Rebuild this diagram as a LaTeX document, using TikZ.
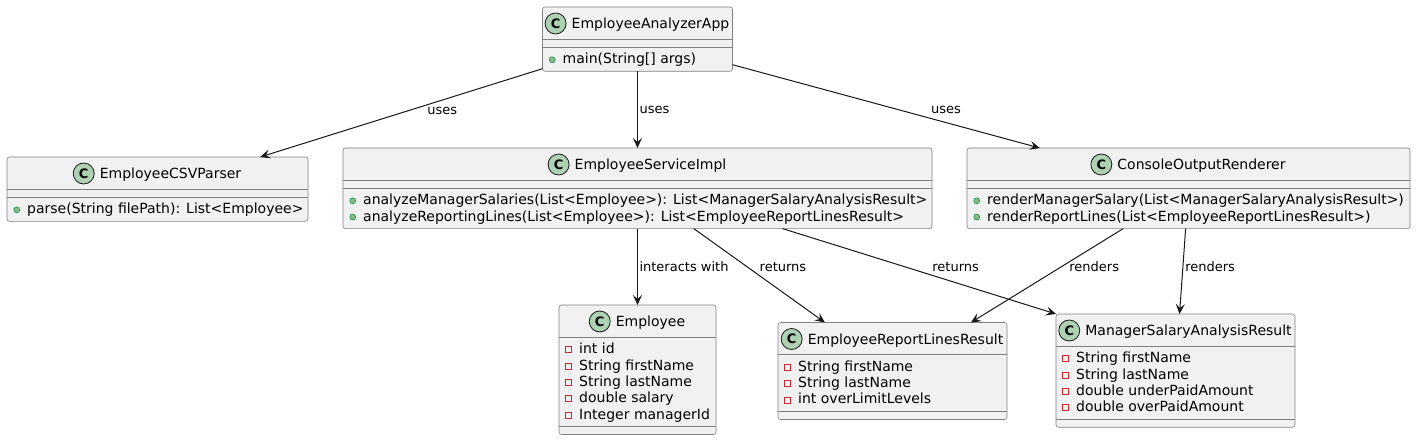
\documentclass[tikz,border=0pt]{standalone}
\usepackage{fontspec}
\setmainfont{DejaVu Sans}
\usetikzlibrary{arrows.meta,positioning}
\definecolor{umlline}{HTML}{181818}
\definecolor{umlfill}{HTML}{F1F1F1}
\definecolor{umlicon}{HTML}{ADD1B2}
\definecolor{pubfill}{HTML}{84BE84}
\definecolor{pubdraw}{HTML}{038048}
\definecolor{privdraw}{HTML}{C82930}

\begin{document}
\begin{tikzpicture}[
  x=1pt, y=-1pt,
  cls/.style={draw=umlline!55,line width=0.6pt,fill=umlfill,rounded corners=2.5pt,anchor=north,inner sep=0pt,outer sep=0pt},
  sep/.style={draw=umlline!55,line width=0.6pt},
  cname/.style={font=\fontsize{14}{16}\selectfont,inner sep=0pt,text height=10pt,text depth=0pt},
  cicon/.style={circle,draw=umlline,line width=0.8pt,fill=umlicon,minimum size=21pt,inner sep=0pt,font=\fontsize{13}{15}\selectfont\bfseries},
  member/.style={font=\fontsize{14}{16}\selectfont,inner sep=0pt,text height=8pt,text depth=0pt,anchor=west},
  pub/.style={member,label={[circle,draw=pubdraw,line width=0.5pt,fill=pubfill,minimum size=6pt,inner sep=0pt,label distance=7pt]left:{}}},
  priv/.style={member,label={[rectangle,draw=privdraw,line width=0.8pt,minimum size=6pt,inner sep=0pt,label distance=7pt]left:{}}},
  lbl/.style={font=\fontsize{13}{15}\selectfont,inner sep=0pt,text height=7pt,text depth=0pt},
  arr/.style={-{Stealth[length=10pt,width=9pt,inset=4pt]},draw=umlline,line width=1pt}
]
\fill[white] (0,0) rectangle (1416,441);
\useasboundingbox (0,0) rectangle (1416,441);

% class boxes
\node[cls,minimum width=190pt,minimum height=64.3pt] (app) at (637.5,7) {};
\node[cls,minimum width=301pt,minimum height=64.3pt] (csv) at (157.5,157) {};
\node[cls,minimum width=589pt,minimum height=80.6pt] (svc) at (637.5,148) {};
\node[cls,minimum width=443pt,minimum height=80.6pt] (out) at (1188.5,148) {};
\node[cls,minimum width=157pt,minimum height=129.5pt] (emp) at (637.5,305) {};
\node[cls,minimum width=229pt,minimum height=97pt] (rep) at (892.5,322.5) {};
\node[cls,minimum width=239pt,minimum height=113.2pt] (msr) at (1175.5,314) {};

% headers
\foreach \n/\t in {app/EmployeeAnalyzerApp, csv/EmployeeCSVParser, svc/EmployeeServiceImpl,
    out/ConsoleOutputRenderer, emp/Employee, rep/EmployeeReportLinesResult, msr/ManagerSalaryAnalysisResult}{
  \node[cname] (\n-t) at ([xshift=13pt,yshift=-16.5pt]\n.north) {\t};
  \node[cicon,left=5pt of \n-t] (\n-c) {C};
  \draw[sep] ([yshift=-32pt]\n.north west) -- ([yshift=-32pt]\n.north east);
}
\foreach \n/\d in {app/40, csv/40, svc/40, out/40, emp/121.5, rep/88.9, msr/105.2}
  \draw[sep] ([yshift={-\d*1pt}]\n.north west) -- ([yshift={-\d*1pt}]\n.north east);

% members
\node[pub] (app-m0) at ([xshift=20pt,yshift=-52.8pt]app.north west) {main(String[] args)};
\node[pub] (csv-m0) at ([xshift=20pt,yshift=-52.8pt]csv.north west) {parse(String filePath): List<Employee>};
\node[pub] (svc-m0) at ([xshift=20pt,yshift=-52.8pt]svc.north west) {analyzeManagerSalaries(List<Employee>): List<ManagerSalaryAnalysisResult>};
\node[pub] (svc-m1) at ([xshift=20pt,yshift=-69.1pt]svc.north west) {analyzeReportingLines(List<Employee>): List<EmployeeReportLinesResult>};
\node[pub] (out-m0) at ([xshift=20pt,yshift=-52.8pt]out.north west) {renderManagerSalary(List<ManagerSalaryAnalysisResult>)};
\node[pub] (out-m1) at ([xshift=20pt,yshift=-69.1pt]out.north west) {renderReportLines(List<EmployeeReportLinesResult>)};
\foreach \a [count=\i from 0] in {int id, String firstName, String lastName, double salary, Integer managerId}
  \node[priv] (emp-a\i) at ([xshift=20pt,yshift={-(44.8+16.3*\i)*1pt}]emp.north west) {\a};
\foreach \a [count=\i from 0] in {String firstName, String lastName, int overLimitLevels}
  \node[priv] (rep-a\i) at ([xshift=20pt,yshift={-(44.8+16.3*\i)*1pt}]rep.north west) {\a};
\foreach \a [count=\i from 0] in {String firstName, String lastName, double underPaidAmount, double overPaidAmount}
  \node[priv] (msr-a\i) at ([xshift=20pt,yshift={-(44.8+16.3*\i)*1pt}]msr.north west) {\a};

% relations
\draw[arr] (app) -- node[lbl,pos=0.355,below=6.5pt] (l-uses1) {uses} (csv);
\draw[arr] (app) -- node[lbl,pos=0.506,right=1.5pt] (l-uses2) {uses} (svc);
\draw[arr] (app) -- node[lbl,pos=0.695,above=9pt] (l-uses3) {uses} (out);
\draw[arr] (svc) -- node[lbl,pos=0.516,right=1.5pt] (l-inter) {interacts with} (emp);
\draw[arr] (svc) -- node[lbl,pos=0.4225,right=10pt] (l-ret1) {returns} (rep);
\draw[arr] ([xshift=145pt]svc.south) -- node[lbl,pos=0.462,right=23pt] (l-ret2) {returns} (msr.north west);
\draw[arr] (out) -- node[lbl,pos=0.4225,right=10pt] (l-ren1) {renders} (rep);
\draw[arr] (out) -- node[lbl,pos=0.462,right=2pt] (l-ren2) {renders} (msr);
\end{tikzpicture}
\end{document}
